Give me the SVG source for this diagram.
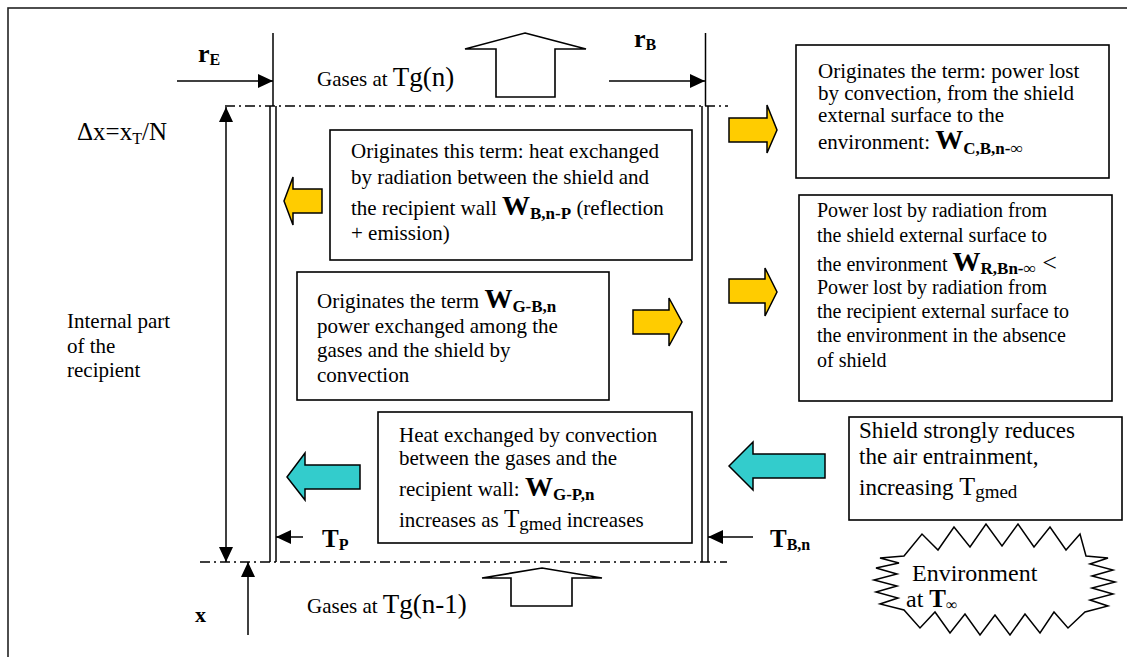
<svg xmlns="http://www.w3.org/2000/svg" width="1127" height="657" viewBox="0 0 1127 657">
<defs>
<style>
text{font-family:"Liberation Serif","Times New Roman",serif;fill:#000}
.t{font-size:21px}
.box{fill:#fff;stroke:#000;stroke-width:1.6}
.ln{fill:none;stroke:#000;stroke-width:1.5}
.dd{fill:none;stroke:#000;stroke-width:1.5;stroke-dasharray:10 4 2 4}
.ya{fill:#FFCC00;stroke:#000;stroke-width:1.5;stroke-linejoin:miter}
.ca{fill:#33CCCC;stroke:#000;stroke-width:1.5}
.ba{fill:#fff;stroke:#000;stroke-width:1.6}
.b{font-weight:bold}
</style>
<marker id="ah" markerUnits="userSpaceOnUse" markerWidth="15" markerHeight="14" refX="15" refY="7" orient="auto">
<path d="M0,0 L15,7 L0,14 z" fill="#000"/>
</marker>
</defs>
<rect x="8" y="8" width="1130" height="660" fill="none" stroke="#222" stroke-width="1.6"/>

<g id="walls">
<line class="ln" x1="273" y1="33" x2="273" y2="106"/>
<line class="ln" x1="270" y1="106" x2="270" y2="562"/>
<line class="ln" x1="276" y1="106" x2="276" y2="562"/>
<line class="ln" x1="705.5" y1="33" x2="705.5" y2="106"/>
<line class="ln" x1="702" y1="106" x2="702" y2="562"/>
<line class="ln" x1="708" y1="106" x2="708" y2="562"/>
<line class="dd" x1="225" y1="106" x2="728" y2="106"/>
<line class="dd" x1="200" y1="562" x2="727" y2="562"/>
</g>

<g id="connectors">
<line class="ln" x1="177" y1="81" x2="273" y2="81" marker-end="url(#ah)"/>
<line class="ln" x1="609" y1="81" x2="705" y2="81" marker-end="url(#ah)"/>
<line class="ln" x1="226" y1="330" x2="226" y2="107" marker-end="url(#ah)"/>
<line class="ln" x1="226" y1="330" x2="226" y2="562" marker-end="url(#ah)"/>
<line class="ln" x1="248" y1="635" x2="248" y2="562" marker-end="url(#ah)"/>
<line class="ln" x1="303" y1="537" x2="276" y2="537" marker-end="url(#ah)"/>
<line class="ln" x1="753" y1="537" x2="708" y2="537" marker-end="url(#ah)"/>
</g>

<g id="flow-arrows">
<polygon class="ba" points="525,33 586,49 555,49 555,97 496,97 496,49 465,49"/>
<polygon class="ba" points="542,568 602,578 572,578 572,606 511,606 511,578 482,578"/>
<polygon class="ya" points="284,201 293,177 293,189 322,189 322,213 293,213 293,225"/>
<polygon class="ya" points="729,118 767,118 767,105 777,130 767,153 767,142 729,142"/>
<polygon class="ya" points="633,310 669,310 669,298 682,322 669,346 669,334 633,334"/>
<polygon class="ya" points="729,279 765,279 765,268 777,292 765,316 765,303 729,303"/>
<polygon class="ca" points="287,477 305,453 305,465 360,465 360,489 305,489 305,500"/>
<polygon class="ca" points="729,466 753,442 753,454 825,454 825,478 753,478 753,490"/>
</g>

<g id="labels">
<text x="198" y="62" class="b" font-size="26">r<tspan font-size="16" dy="3">E</tspan></text>
<text x="634" y="47" class="b" font-size="26">r<tspan font-size="16" dy="3">B</tspan></text>
<text x="317" y="86" font-size="21">Gases at <tspan font-size="27">Tg(n)</tspan></text>
<text x="307" y="613" font-size="21">Gases at <tspan font-size="27">Tg(n-1)</tspan></text>
<text x="77" y="140" font-size="25">Δx=x<tspan font-size="16" dy="4">T</tspan><tspan dy="-4">/N</tspan></text>
<text x="67" class="t"><tspan x="67" y="328">Internal part</tspan><tspan x="67" y="353">of the</tspan><tspan x="67" y="377">recipient</tspan></text>
<text x="322" y="547" class="b" font-size="25">T<tspan font-size="16" dy="3">P</tspan></text>
<text x="770" y="547" class="b" font-size="25">T<tspan font-size="16" dy="3">B,n</tspan></text>
<text x="195" y="622" class="b" font-size="22">x</text>
</g>

<g id="box-convection-env">
<rect class="box" x="796" y="45" width="313" height="133"/>
<text class="t"><tspan x="818" y="78">Originates the term: power lost</tspan><tspan x="818" y="100">by convection, from the shield</tspan><tspan x="818" y="122">external surface to the</tspan><tspan x="818" y="149">environment: <tspan class="b" font-size="28">W</tspan><tspan class="b" font-size="17" dy="5">C,B,n-∞</tspan></tspan></text>
</g>

<g id="box-radiation-wall">
<rect class="box" x="330" y="130" width="362" height="130"/>
<text class="t"><tspan x="351" y="158">Originates this term: heat exchanged</tspan><tspan x="351" y="184">by radiation between the shield and</tspan><tspan x="351" y="215">the recipient wall <tspan class="b" font-size="28">W</tspan><tspan class="b" font-size="17" dy="4">B,n-P</tspan><tspan dy="-4"> (reflection</tspan></tspan><tspan x="351" y="240">+ emission)</tspan></text>
</g>

<g id="box-gas-shield">
<rect class="box" x="297" y="272" width="312" height="128"/>
<text class="t"><tspan x="317" y="308">Originates the term <tspan class="b" font-size="28">W</tspan><tspan class="b" font-size="17" dy="4">G-B,n</tspan></tspan><tspan x="317" y="333">power exchanged among the</tspan><tspan x="317" y="357">gases and the shield by</tspan><tspan x="317" y="382">convection</tspan></text>
</g>

<g id="box-gas-wall">
<rect class="box" x="378" y="412" width="314" height="131"/>
<text class="t"><tspan x="399" y="442">Heat exchanged by convection</tspan><tspan x="399" y="465">between  the gases and the</tspan><tspan x="399" y="496">recipient wall: <tspan class="b" font-size="28">W</tspan><tspan class="b" font-size="17" dy="4">G-P,n</tspan></tspan><tspan x="399" y="527">increases as <tspan font-size="25">T</tspan><tspan font-size="19" dy="3">gmed</tspan><tspan dy="-3"> increases</tspan></tspan></text>
</g>

<g id="box-radiation-env">
<rect class="box" x="799" y="195" width="313" height="206"/>
<text font-size="20"><tspan x="817" y="217">Power lost by radiation from</tspan><tspan x="817" y="242">the shield external surface to</tspan><tspan x="817" y="271">the environment <tspan class="b" font-size="28">W</tspan><tspan class="b" font-size="17" dy="3">R,Bn-∞</tspan><tspan dy="-3" font-size="26"> &lt;</tspan></tspan><tspan x="817" y="294">Power lost by radiation from</tspan><tspan x="817" y="318">the recipient external surface to</tspan><tspan x="817" y="342">the environment in the absence</tspan><tspan x="817" y="367">of shield</tspan></text>
</g>

<g id="box-entrainment">
<rect class="box" x="849" y="417" width="273" height="103"/>
<text font-size="23"><tspan x="859" y="438">Shield strongly reduces</tspan><tspan x="859" y="464">the air entrainment,</tspan><tspan x="859" y="495">increasing <tspan font-size="26">T</tspan><tspan font-size="19" dy="3">gmed</tspan></tspan></text>
</g>

<g id="environment">
<polygon fill="#fff" stroke="#000" stroke-width="1.5" points="904,556 922,534 938,550 954,527 970,547 986,524 1002,546 1018,524 1034,547 1050,527 1066,550 1080,534 1086,556 1108,558 1090,564 1113,570 1092,576 1115,582 1092,588 1113,594 1090,600 1108,606 1085,612 1068,628 1054,612 1040,633 1025,614 1010,635 995,615 980,635 965,614 950,633 935,612 920,628 904,610 880,604 898,598 876,592 897,586 874,580 897,574 876,568 899,563 880,558"/>
<text font-size="24"><tspan x="912" y="581">Environment</tspan><tspan x="906" y="607">at <tspan class="b" font-size="25">T</tspan><tspan font-size="16" dy="3">∞</tspan></tspan></text>
</g>
</svg>
